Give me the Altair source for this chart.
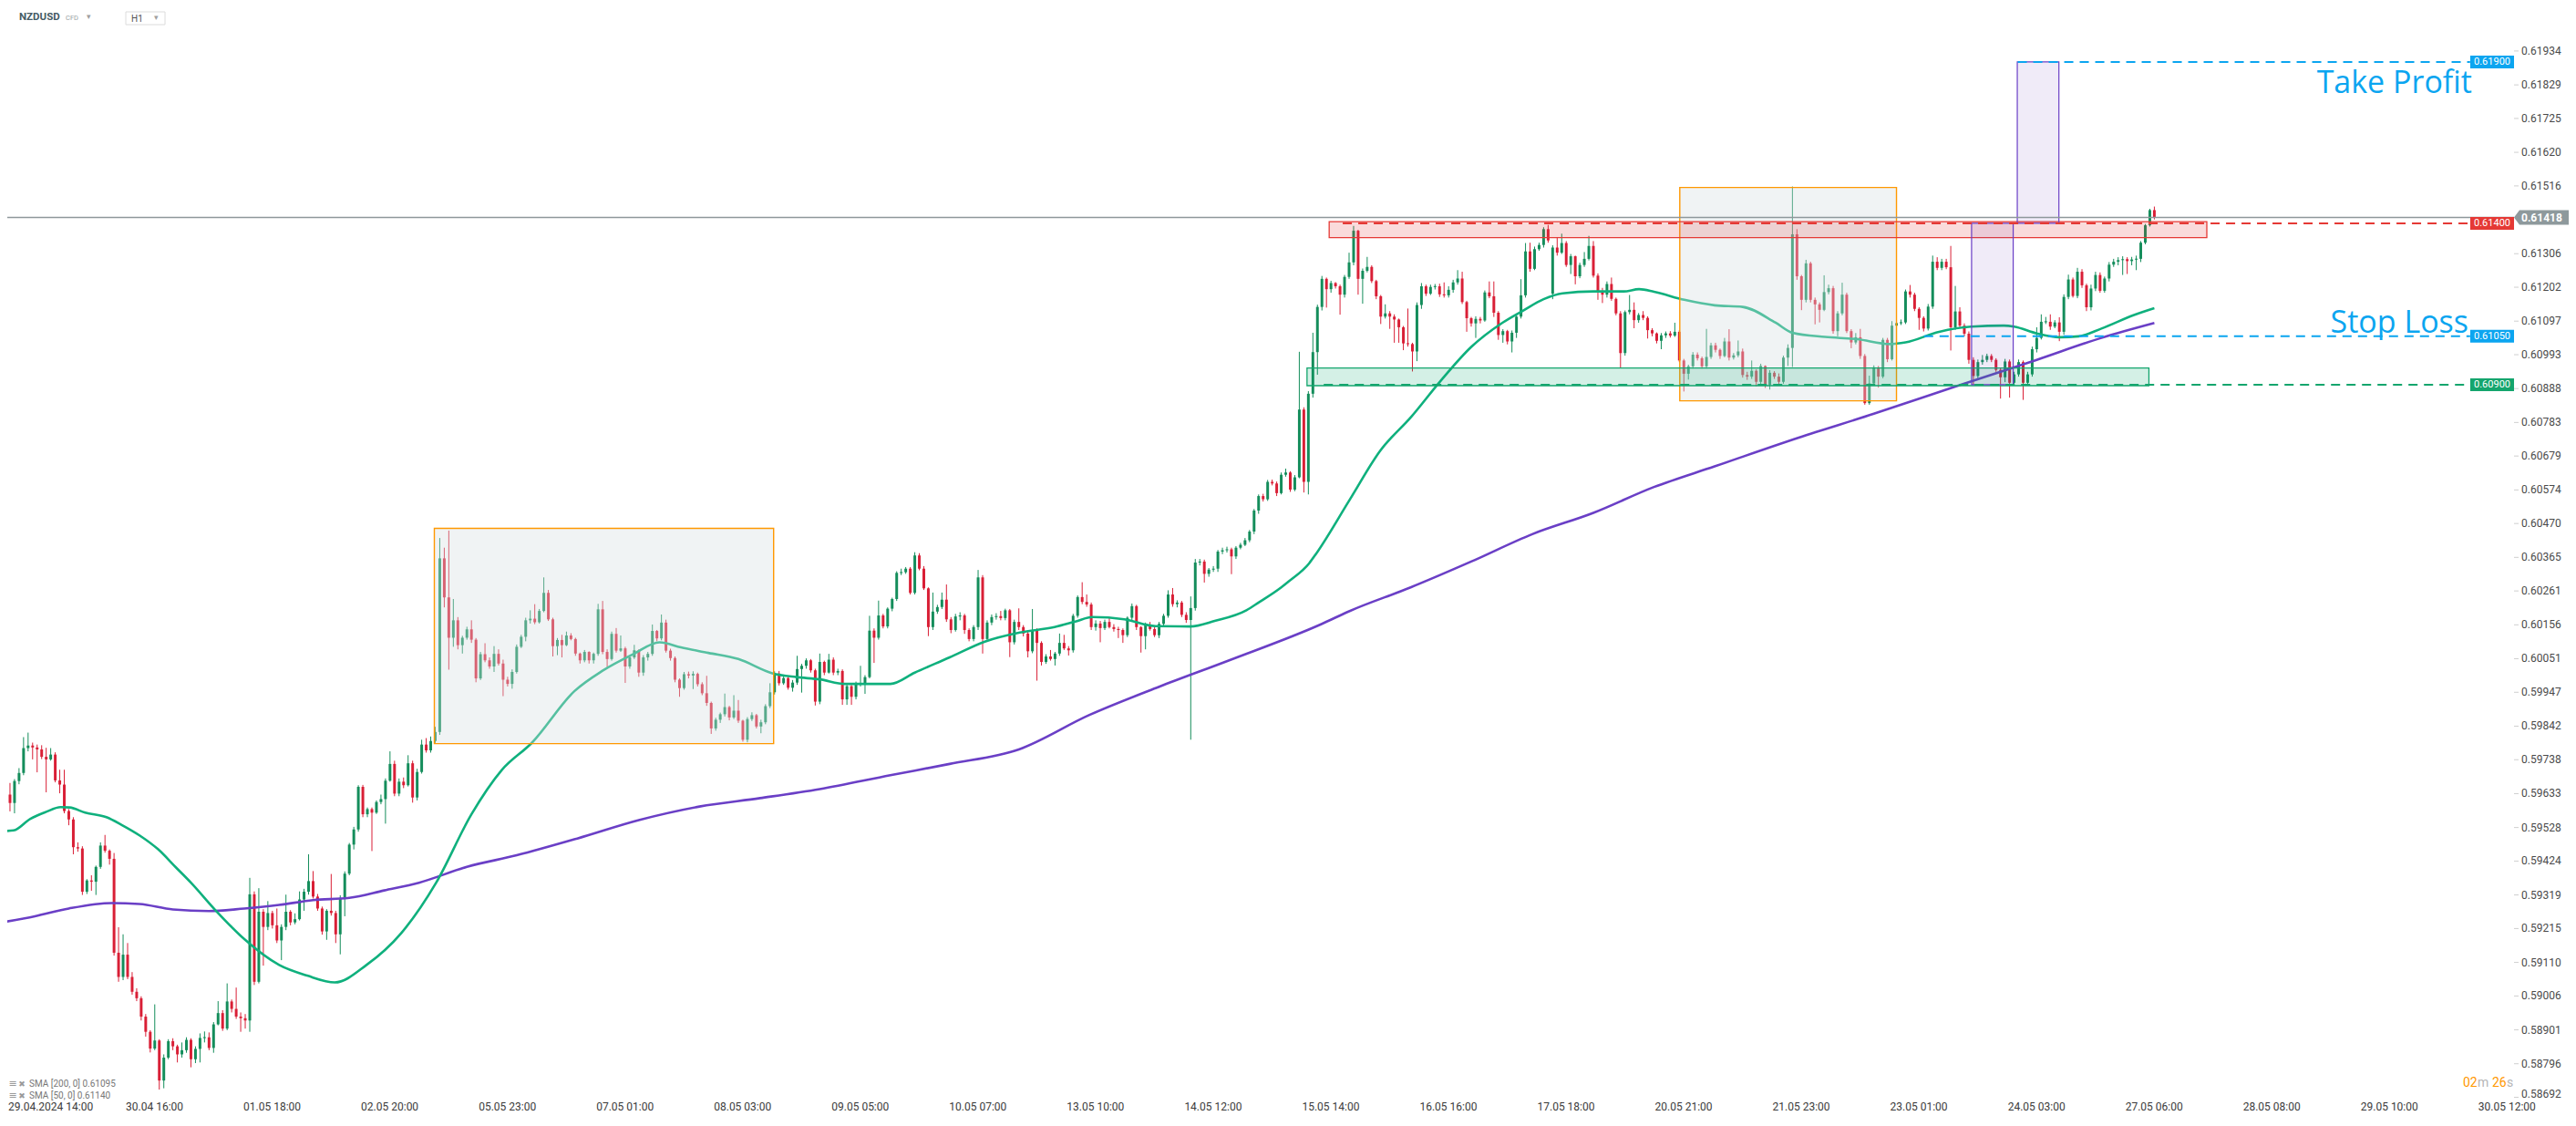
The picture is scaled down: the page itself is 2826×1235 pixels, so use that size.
import altair as alt
import pandas as pd
import numpy as np

# ------------------------------------------------------------------
# NZDUSD H1 candles (prices in 1e-5 units), bar 0 = 29.04.2024 14:00
# ------------------------------------------------------------------
first_open = 59720
open_gap = {342: 61182}

close = [
    59630, 59604, 59672, 59697, 59774, 59782, 59776, 59770, 59747, 59739,
    59754, 59674, 59661, 59579, 59553, 59467, 59463, 59329, 59364, 59360,
    59406, 59472, 59456, 59431, 59140, 59065, 59134, 59065, 59019, 58999,
    58942, 58895, 58843, 58868, 58744, 58815, 58866, 58850, 58825, 58838,
    58870, 58810, 58842, 58876, 58878, 58845, 58918, 58953, 58905, 58989,
    58966, 58942, 58937, 58930, 59321, 59050, 59267, 59220, 59263, 59225,
    59178, 59220, 59267, 59234, 59244, 59305, 59329, 59362, 59314, 59277,
    59206, 59270, 59263, 59197, 59310, 59385, 59475, 59522, 59654, 59569,
    59585, 59574, 59607, 59616, 59673, 59725, 59633, 59670, 59659, 59727,
    59621, 59700, 59785, 59767, 59796, 59824, 60362, 60241, 60116, 60170,
    60093, 60116, 60142, 60110, 59990, 60065, 60046, 60027, 60066, 60036,
    59986, 59973, 60010, 60088, 60119, 60170, 60175, 60164, 60199, 60255,
    60173, 60090, 60109, 60093, 60123, 60112, 60067, 60046, 60072, 60046,
    60066, 60204, 60072, 60050, 60128, 60076, 60083, 60027, 60055, 60077,
    60008, 60055, 60066, 60137, 60114, 60163, 60076, 60053, 59986, 59960,
    60003, 59999, 60004, 59972, 59944, 59914, 59835, 59862, 59879, 59901,
    59869, 59890, 59859, 59800, 59864, 59876, 59841, 59854, 59904, 59947,
    60005, 59975, 59991, 59961, 59977, 60019, 60029, 60046, 60015, 59918,
    60041, 60008, 60048, 60008, 60013, 59925, 59966, 59933, 59972, 59975,
    59994, 60138, 60116, 60185, 60151, 60206, 60236, 60317, 60319, 60330,
    60255, 60371, 60330, 60269, 60149, 60197, 60211, 60234, 60173, 60140,
    60182, 60185, 60140, 60112, 60149, 60303, 60112, 60163, 60180, 60183,
    60177, 60201, 60102, 60165, 60149, 60129, 60074, 60140, 60100, 60041,
    60058, 60050, 60067, 60100, 60083, 60077, 60184, 60242, 60227, 60219,
    60149, 60160, 60146, 60165, 60149, 60143, 60140, 60124, 60178, 60214,
    60149, 60121, 60157, 60143, 60124, 60159, 60184, 60250, 60220, 60225,
    60187, 60171, 60208, 60349, 60352, 60314, 60327, 60330, 60383, 60387,
    60390, 60368, 60395, 60404, 60418, 60445, 60510, 60555, 60545, 60599,
    60594, 60564, 60621, 60628, 60575, 60613, 60823, 60599, 60872, 61001,
    61141, 61228, 61196, 61215, 61205, 61179, 61234, 61279, 61377, 61228,
    61253, 61265, 61221, 61174, 61111, 61121, 61111, 61102, 61078, 61028,
    61026, 61003, 61147, 61205, 61182, 61203, 61205, 61180, 61177, 61194,
    61217, 61229, 61156, 61106, 61090, 61104, 61099, 61186, 61174, 61123,
    61054, 61066, 61034, 61061, 61111, 61177, 61313, 61259, 61320, 61333,
    61382, 61347, 61325, 61309, 61339, 61271, 61298, 61236, 61271, 61290,
    61330, 61238, 61187, 61179, 61212, 61166, 61121, 60998, 61125, 61132,
    61100, 61116, 61107, 61069, 61059, 61036, 61053, 61059, 61052, 61064,
    60975, 60934, 60957, 60993, 60982, 60957, 60986, 61022, 61008, 60989,
    61034, 60984, 60991, 61003, 60930, 60925, 60943, 60909, 60958, 60899,
    60937, 60925, 60909, 60984, 61014, 61366, 61236, 61163, 61276, 61163,
    61149, 61132, 61187, 61199, 61066, 61121, 61179, 61066, 61031, 61047,
    60989, 60843, 60904, 60954, 60925, 61039, 60979, 61083, 61091, 61093,
    61189, 61179, 61135, 61107, 61074, 61142, 61281, 61262, 61281, 61264,
    61078, 61127, 61083, 61058, 60977, 60927, 60970, 60977, 60989, 60977,
    60946, 60923, 60972, 60906, 60932, 60970, 60906, 60932, 61010, 61045,
    61095, 61095, 61080, 61093, 61064, 61172, 61226, 61175, 61250, 61208,
    61140, 61198, 61240, 61191, 61229, 61272, 61281, 61286, 61289, 61283,
    61288, 61290, 61340, 61394, 61441, 61418,
]

high = [
    59765, 59666, 59678, 59712, 59808, 59822, 59791, 59785, 59783, 59775,
    59774, 59761, 59707, 59707, 59585, 59560, 59482, 59470, 59368, 59380,
    59410, 59482, 59505, 59460, 59449, 59219, 59197, 59170, 59080, 59030,
    59005, 58950, 58900, 58980, 58872, 58825, 58872, 58875, 58855, 58862,
    58878, 58875, 58850, 58890, 58896, 58893, 58925, 58990, 58962, 59045,
    58995, 59032, 58955, 58950, 59372, 59330, 59340, 59275, 59300, 59270,
    59277, 59228, 59320, 59272, 59262, 59330, 59338, 59445, 59393, 59322,
    59283, 59275, 59384, 59270, 59318, 59392, 59480, 59530, 59659, 59660,
    59590, 59590, 59612, 59630, 59680, 59764, 59735, 59680, 59683, 59752,
    59735, 59710, 59800, 59805, 59810, 59840, 60425, 60395, 60448, 60236,
    60180, 60122, 60150, 60170, 60115, 60072, 60099, 60055, 60090, 60080,
    60048, 59995, 60018, 60095, 60125, 60178, 60201, 60220, 60205, 60303,
    60264, 60178, 60115, 60125, 60135, 60130, 60116, 60070, 60078, 60074,
    60070, 60221, 60230, 60080, 60135, 60146, 60123, 60088, 60060, 60094,
    60080, 60062, 60072, 60157, 60140, 60188, 60172, 60082, 60058, 59990,
    60010, 60011, 60012, 60008, 59978, 59998, 59918, 59868, 59884, 59943,
    59905, 59938, 59923, 59862, 59870, 59885, 59880, 59862, 59910, 59975,
    60012, 60013, 59998, 59995, 59985, 60060, 60035, 60052, 60050, 60020,
    60067, 60045, 60066, 60055, 60020, 60018, 59972, 59970, 59980, 60029,
    60000, 60184, 60145, 60231, 60190, 60210, 60240, 60322, 60330, 60335,
    60335, 60381, 60378, 60338, 60272, 60256, 60218, 60256, 60281, 60180,
    60190, 60195, 60190, 60145, 60155, 60326, 60310, 60170, 60188, 60192,
    60199, 60206, 60205, 60172, 60207, 60155, 60135, 60205, 60145, 60105,
    60065, 60078, 60072, 60129, 60125, 60090, 60190, 60247, 60288, 60250,
    60225, 60170, 60168, 60172, 60180, 60158, 60150, 60145, 60182, 60222,
    60218, 60152, 60163, 60165, 60150, 60165, 60190, 60263, 60270, 60232,
    60230, 60195, 60244, 60360, 60360, 60358, 60332, 60338, 60388, 60395,
    60398, 60395, 60400, 60410, 60425, 60450, 60515, 60560, 60562, 60605,
    60606, 60600, 60628, 60640, 60632, 60620, 61002, 60830, 60880, 61061,
    61148, 61237, 61232, 61222, 61218, 61210, 61240, 61309, 61392, 61380,
    61260, 61296, 61270, 61225, 61178, 61149, 61128, 61118, 61105, 61082,
    61136, 61030, 61155, 61215, 61210, 61210, 61212, 61213, 61217, 61205,
    61225, 61255, 61250, 61160, 61110, 61112, 61110, 61192, 61220, 61220,
    61128, 61072, 61070, 61068, 61118, 61227, 61339, 61340, 61328, 61340,
    61388, 61395, 61332, 61357, 61368, 61345, 61305, 61300, 61278, 61311,
    61361, 61345, 61245, 61200, 61220, 61232, 61170, 61128, 61130, 61178,
    61155, 61122, 61128, 61112, 61075, 61062, 61060, 61065, 61066, 61092,
    61069, 60980, 60962, 61001, 61000, 60987, 61073, 61030, 61030, 61012,
    61045, 61072, 60998, 61037, 61012, 60940, 60975, 60948, 60965, 60960,
    60945, 60942, 60935, 60990, 61025, 61514, 61382, 61240, 61287, 61281,
    61170, 61155, 61239, 61210, 61206, 61128, 61216, 61185, 61072, 61060,
    61073, 60995, 60928, 60960, 60958, 61045, 61045, 61097, 61100, 61102,
    61195, 61209, 61185, 61140, 61112, 61150, 61300, 61295, 61290, 61290,
    61330, 61206, 61140, 61090, 61065, 60985, 60978, 60992, 60996, 60995,
    60982, 60952, 60980, 60978, 60940, 60978, 60975, 60940, 61018, 61078,
    61118, 61110, 61118, 61100, 61109, 61180, 61241, 61232, 61262, 61258,
    61213, 61210, 61250, 61248, 61235, 61280, 61290, 61295, 61298, 61295,
    61296, 61300, 61345, 61398, 61445, 61452,
]

low = [
    59625, 59578, 59572, 59662, 59690, 59764, 59739, 59699, 59740, 59637,
    59735, 59668, 59634, 59572, 59535, 59445, 59453, 59319, 59322, 59332,
    59319, 59400, 59450, 59413, 59131, 59050, 59055, 59058, 59010, 58990,
    58930, 58880, 58831, 58838, 58716, 58720, 58810, 58838, 58800, 58815,
    58830, 58785, 58798, 58800, 58862, 58838, 58830, 58915, 58898, 58900,
    58955, 58935, 58895, 58905, 58895, 59040, 59045, 59100, 59210, 59215,
    59170, 59117, 59210, 59225, 59228, 59240, 59270, 59320, 59308, 59270,
    59196, 59180, 59255, 59170, 59135, 59253, 59380, 59460, 59515, 59560,
    59560, 59455, 59570, 59600, 59540, 59670, 59625, 59625, 59650, 59655,
    59605, 59612, 59695, 59760, 59760, 59790, 59815, 60210, 60017, 60088,
    60080, 60067, 60110, 60100, 59978, 59985, 60040, 60020, 60010, 60030,
    59935, 59965, 59958, 60005, 60084, 60105, 60160, 60158, 60160, 60195,
    60168, 60058, 60062, 60055, 60090, 60108, 60060, 60036, 60040, 60036,
    60036, 60060, 60065, 60025, 60045, 60070, 60072, 59976, 60020, 60050,
    59995, 59998, 60045, 60060, 60105, 60108, 60070, 60045, 59978, 59933,
    59955, 59990, 59957, 59965, 59938, 59905, 59818, 59828, 59852, 59872,
    59860, 59864, 59852, 59794, 59792, 59858, 59835, 59820, 59848, 59898,
    59940, 59968, 59970, 59955, 59949, 59970, 59946, 60020, 60008, 59906,
    59910, 60000, 60005, 60000, 60000, 59908, 59908, 59908, 59925, 59965,
    59942, 59990, 60038, 60110, 60145, 60145, 60198, 60230, 60310, 60314,
    60250, 60250, 60325, 60264, 60121, 60140, 60190, 60205, 60165, 60130,
    60135, 60170, 60128, 60105, 60105, 60140, 60067, 60105, 60155, 60172,
    60170, 60170, 60056, 60095, 60140, 60120, 60055, 60068, 59983, 60030,
    60035, 60045, 60030, 60060, 60078, 60061, 60070, 60178, 60220, 60212,
    60140, 60138, 60102, 60140, 60145, 60135, 60115, 60100, 60118, 60170,
    60140, 60070, 60080, 60138, 60118, 60115, 60150, 60178, 60212, 60210,
    60180, 60162, 59800, 60200, 60340, 60287, 60305, 60320, 60320, 60375,
    60380, 60313, 60360, 60390, 60400, 60412, 60437, 60500, 60538, 60540,
    60588, 60555, 60560, 60615, 60568, 60570, 60610, 60566, 60560, 60860,
    60931, 61130, 61139, 61185, 61198, 61117, 61170, 61228, 61270, 61179,
    61151, 61248, 61215, 61165, 61088, 61105, 61073, 61030, 61030, 61007,
    61018, 60941, 60973, 61135, 61175, 61178, 61195, 61172, 61170, 61170,
    61185, 61210, 61150, 61064, 61080, 61045, 61090, 61095, 61168, 61110,
    61039, 61030, 61025, 61000, 61045, 61105, 61170, 61250, 61255, 61315,
    61325, 61340, 61165, 61300, 61305, 61265, 61243, 61211, 61230, 61265,
    61285, 61232, 61163, 61153, 61170, 61160, 61115, 60953, 60990, 61118,
    61075, 61092, 61100, 61043, 61050, 61028, 61010, 61045, 61046, 61048,
    60970, 60879, 60916, 60950, 60975, 60950, 60950, 60980, 61000, 60980,
    60985, 60975, 60978, 60985, 60922, 60915, 60918, 60895, 60900, 60890,
    60885, 60918, 60902, 60903, 60958, 60955, 61225, 61131, 61155, 61155,
    61087, 61093, 61128, 61180, 61058, 61050, 61115, 61060, 61013, 61025,
    60980, 60838, 60838, 60898, 60891, 60920, 60970, 60975, 61026, 61085,
    61088, 61170, 61128, 61070, 61065, 61068, 61135, 61255, 61255, 61258,
    61006, 61070, 61075, 61050, 60965, 60900, 60920, 60962, 60970, 60970,
    60940, 60857, 60908, 60860, 60900, 60925, 60853, 60900, 60925, 61000,
    61040, 61088, 61070, 61075, 61035, 61055, 61165, 61170, 61168, 61200,
    61128, 61130, 61190, 61185, 61185, 61220, 61265, 61270, 61240, 61243,
    61270, 61255, 61280, 61335, 61390, 61412,
]

# Moving averages (bar position, value in 1e-5 units)
sma50_bar = [0, 1.8, 5.5, 8.9, 12.2, 14.2, 17.6, 22.3, 25.7, 29.7, 33.7, 37.7, 41, 46.6,
             52.8, 60.5, 66.7, 72.8, 79.8, 87.5, 95.2, 103, 109.7, 116.4, 125.8, 131.9,
             138.6, 144.6, 149.3, 155.4, 162, 169.5, 174.8, 180, 185.6, 195.6, 201, 208.7,
             216.5, 224.2, 231.9, 236.5, 240.3, 247.3, 254.2, 261.9, 267.3, 274.3, 277,
             282, 283.7, 288.2, 289.7, 297.2, 303.9, 310.7, 317.3, 324, 330.9, 335.5, 340,
             344.2, 351, 357.7, 361.1, 364.4, 371.1, 377.8, 384, 391.3, 395, 402.2, 409.3,
             416.5, 420, 427.4, 434.5, 441.7, 444, 449, 454, 458.3, 463.3, 470.5, 475]
sma50_val = [59517, 59519, 59555, 59576, 59591, 59590, 59574, 59560, 59536, 59503, 59461,
             59404, 59357, 59269, 59182, 59102, 59069, 59048, 59102, 59201, 59357, 59569,
             59706, 59791, 59951, 60013, 60064, 60102, 60086, 60069, 60050, 60006, 59994,
             59987, 59973, 59973, 60008, 60055, 60104, 60132, 60149, 60166, 60180, 60173,
             60152, 60151, 60168, 60201, 60225, 60272, 60291, 60347, 60376, 60545, 60696,
             60800, 60913, 61017, 61092, 61130, 61165, 61183, 61189, 61189, 61196, 61188,
             61163, 61146, 61141, 61092, 61061, 61048, 61041, 61026, 61031, 61064, 61080,
             61083, 61080, 61059, 61047, 61050, 61074, 61116, 61137]

sma200_bar = [0, 6.5, 14, 23.5, 29.6, 37, 45, 52.8, 60.5, 68, 76, 83.7, 91.4, 102, 113,
              126.4, 140, 153.4, 166.8, 180, 195.6, 208.7, 224, 239.5, 255, 270.5, 291, 297,
              310.6, 324, 337.5, 351, 364.4, 377.8, 396.4, 413, 431, 449, 463.3, 475]
sma200_val = [59236, 59253, 59277, 59294, 59291, 59274, 59269, 59277, 59288, 59303, 59310,
              59333, 59357, 59406, 59442, 59494, 59551, 59593, 59619, 59647, 59690, 59725,
              59770, 59876, 59964, 60046, 60159, 60198, 60272, 60352, 60437, 60503, 60583,
              60647, 60736, 60810, 60894, 60977, 61045, 61091]

# Axis labels
price_tick_text = ["0.61934", "0.61829", "0.61725", "0.61620", "0.61516", "0.61306",
                   "0.61202", "0.61097", "0.60993", "0.60888", "0.60783", "0.60679",
                   "0.60574", "0.60470", "0.60365", "0.60261", "0.60156", "0.60051",
                   "0.59947", "0.59842", "0.59738", "0.59633", "0.59528", "0.59424",
                   "0.59319", "0.59215", "0.59110", "0.59006", "0.58901", "0.58796",
                   "0.58692"]
time_tick_bar = [0, 26, 52, 78, 104, 130, 156, 182, 208, 234, 260, 286, 312, 338, 364,
                 390, 416, 442, 468, 494, 520, 546]
time_tick_text = ["29.04.2024 14:00", "30.04 16:00", "01.05 18:00", "02.05 20:00",
                  "05.05 23:00", "07.05 01:00", "08.05 03:00", "09.05 05:00",
                  "10.05 07:00", "13.05 10:00", "14.05 12:00", "15.05 14:00",
                  "16.05 16:00", "17.05 18:00", "20.05 21:00", "21.05 23:00",
                  "23.05 01:00", "24.05 03:00", "27.05 06:00", "28.05 08:00",
                  "29.05 10:00", "30.05 12:00"]

# Drawing tools (bar positions and price levels)
orange_bar0 = [94.8, 370.1]
orange_bar1 = [169.8, 418.0]
orange_lo = [0.59788, 0.60850]
orange_hi = [0.60455, 0.61511]

zone_red = dict(b0=[292.6], b1=[486.6], p0=[0.61356], p1=[0.61405])
zone_green = dict(b0=[287.7], b1=[473.8], p0=[0.60897], p1=[0.60952])
purple_bar0 = [434.6, 444.7]
purple_bar1 = [443.8, 453.9]
purple_lo = [0.60900, 0.61400]
purple_hi = [0.61400, 0.61900]

level_kind = ["tp", "sl", "res", "sup"]
level_price = [0.61900, 0.61050, 0.61400, 0.60900]
level_text = ["0.61900", "0.61050", "0.61400", "0.60900"]
level_from = [444.8, 424.1, 295.6, 291.4]
level_to = [544.8, 544.8, 544.8, 544.8]

last_price = 0.61418
last_text = "0.61418"
sma_legend = ["SMA [200, 0] 0.61095", "SMA [50, 0] 0.61140"]

# ------------------------------------------------------------------
W, H = 2810, 1212
X_DOM = [2 / 4.963, (W + 2) / 4.963]
Y_DOM = [(62092 - 1220 * 2.825) / 1e5, (62092 - 8 * 2.825) / 1e5]

GREEN = "#148d5b"
RED = "#d91f36"
BLUE = "#0ba5f0"

n = len(close)
opens = [first_open] + close[:-1]
for k, v in open_gap.items():
    opens[k] = v
df = pd.DataFrame({"i": np.arange(n), "o": opens, "h": high, "l": low, "c": close})
for col in ["o", "h", "l", "c"]:
    df[col] = df[col] / 1e5
df["dir"] = np.where(df["c"] >= df["o"], "up", "down")
df["b0"] = df[["o", "c"]].min(axis=1)
df["b1"] = df[["o", "c"]].max(axis=1)
mid = (df["b0"] + df["b1"]) / 2
thin = (df["b1"] - df["b0"]) < 0.00003
df.loc[thin, "b0"] = mid[thin] - 0.000015
df.loc[thin, "b1"] = mid[thin] + 0.000015
df["wl"] = df[["l", "b0"]].min(axis=1)
df["wh"] = df[["h", "b1"]].max(axis=1)
df["x0"] = df["i"] - 0.3
df["x1"] = df["i"] + 0.3

xs = alt.Scale(domain=X_DOM, nice=False, zero=False)
ys = alt.Scale(domain=Y_DOM, nice=False, zero=False)


def X(f):
    return alt.X(f, scale=xs, axis=None)


def Y(f):
    return alt.Y(f, scale=ys, axis=None)


candle_color = alt.Color("dir:N", scale=alt.Scale(domain=["up", "down"], range=[GREEN, RED]),
                         legend=None)

wicks = alt.Chart(df).mark_rule(strokeWidth=1).encode(
    x=X("i:Q"), y=Y("wl:Q"), y2="wh:Q", color=candle_color)
bodies = alt.Chart(df).mark_rect().encode(
    x=X("x0:Q"), x2="x1:Q", y=Y("b0:Q"), y2="b1:Q", color=candle_color)

sma50_df = pd.DataFrame({"bar": sma50_bar, "v": np.array(sma50_val) / 1e5})
sma200_df = pd.DataFrame({"bar": sma200_bar, "v": np.array(sma200_val) / 1e5})
sma200 = alt.Chart(sma200_df).mark_line(color="#6a3fc6", strokeWidth=2.6,
                                        interpolate="monotone").encode(x=X("bar:Q"), y=Y("v:Q"))
sma50 = alt.Chart(sma50_df).mark_line(color="#0fb07d", strokeWidth=2.6,
                                      interpolate="monotone").encode(x=X("bar:Q"), y=Y("v:Q"))

obox = pd.DataFrame({"b0": orange_bar0, "b1": orange_bar1, "p0": orange_lo, "p1": orange_hi})
orange_boxes = alt.Chart(obox).mark_rect(fill="#d5dee1", fillOpacity=0.36, stroke="#ff9800",
                                         strokeWidth=1.4).encode(
    x=X("b0:Q"), x2="b1:Q", y=Y("p0:Q"), y2="p1:Q")

red_zone = alt.Chart(pd.DataFrame(zone_red)).mark_rect(
    fill="#e53935", fillOpacity=0.18, stroke="#e53935", strokeWidth=1.3).encode(
    x=X("b0:Q"), x2="b1:Q", y=Y("p0:Q"), y2="p1:Q")
green_zone = alt.Chart(pd.DataFrame(zone_green)).mark_rect(
    fill="#00a86b", fillOpacity=0.17, stroke="#13a56d", strokeWidth=1.3).encode(
    x=X("b0:Q"), x2="b1:Q", y=Y("p0:Q"), y2="p1:Q")
pbox = pd.DataFrame({"b0": purple_bar0, "b1": purple_bar1, "p0": purple_lo, "p1": purple_hi})
purple_boxes = alt.Chart(pbox).mark_rect(fill="#673ab7", fillOpacity=0.1, stroke="#6a3fc6",
                                         strokeWidth=1.2).encode(
    x=X("b0:Q"), x2="b1:Q", y=Y("p0:Q"), y2="p1:Q")

lvl = pd.DataFrame({"kind": level_kind, "p": level_price, "t": level_text,
                    "b0": level_from, "b1": level_to})
level_color = alt.Color("kind:N", scale=alt.Scale(domain=["tp", "sl", "res", "sup"],
                                                  range=[BLUE, BLUE, "#e53935", "#14a56d"]),
                        legend=None)
level_lines = alt.Chart(lvl).mark_rule(strokeWidth=2, strokeDash=[10, 7]).encode(
    x=X("b0:Q"), x2="b1:Q", y=Y("p:Q"), color=level_color)

last_df = pd.DataFrame({"p": [last_price], "t": [last_text]})
last_line = alt.Chart(last_df).mark_rule(color="#8e989b", strokeWidth=1.5).encode(
    x=alt.value(0), x2=alt.value(2750), y=Y("p:Q"))

BOX_PATH = "M-3.43,-1 L3.43,-1 L3.43,1 L-3.43,1 Z"
level_boxes = alt.Chart(lvl).mark_point(shape=BOX_PATH, filled=True, size=196, opacity=1,
                                        strokeWidth=0).encode(
    x=alt.value(2726), y=Y("p:Q"), color=level_color)
level_box_text = alt.Chart(lvl).mark_text(color="white", fontSize=11, font="Roboto",
                                          align="center", baseline="middle").encode(
    x=alt.value(2726), y=Y("p:Q"), text="t:N")

ARROW_PATH = "M-4.25,0 L-3.5,-1 L4.25,-1 L4.25,1 L-3.5,1 Z"
last_box = alt.Chart(last_df).mark_point(shape=ARROW_PATH, filled=True, size=256, opacity=1,
                                         strokeWidth=0, color="#8e999c").encode(
    x=alt.value(2784), y=Y("p:Q"))
last_box_text = alt.Chart(last_df).mark_text(color="white", fontSize=12, font="Roboto",
                                             fontWeight="bold", align="left",
                                             baseline="middle").encode(
    x=alt.value(2758), y=Y("p:Q"), text="t:N")

ptick = pd.DataFrame({"t": price_tick_text, "p": [float(t) for t in price_tick_text]})
ptick_main = ptick.iloc[:-1]
ptick_last = ptick.iloc[-1:]
price_dash = alt.Chart(ptick).mark_rule(color="#cfcfcf", strokeWidth=1).encode(
    x=alt.value(2750), x2=alt.value(2755), y=Y("p:Q"))
price_lab = alt.Chart(ptick_main).mark_text(fontSize=12, font="Roboto", color="#4a4a4a",
                                            align="left", baseline="middle").encode(
    x=alt.value(2758), y=Y("p:Q"), text="t:N")
price_lab_last = alt.Chart(ptick_last).mark_text(fontSize=12, font="Roboto", color="#4a4a4a",
                                                 align="left", baseline="middle",
                                                 dy=-4).encode(
    x=alt.value(2758), y=Y("p:Q"), text="t:N")

ttick = pd.DataFrame({"bar": time_tick_bar, "t": time_tick_text})
time_lab = alt.Chart(ttick).mark_text(fontSize=12, font="Roboto", color="#3a3a3a",
                                      align="left", baseline="middle", dx=3).encode(
    x=X("bar:Q"), y=alt.value(1205.5), text="t:N")

one = pd.DataFrame({"k": [0]})


def txt(text, x, y, size, color, weight="normal", font="Roboto", align="left",
        baseline="middle"):
    return alt.Chart(one).mark_text(text=text, fontSize=size, color=color, fontWeight=weight,
                                    font=font, align=align, baseline=baseline).encode(
        x=alt.value(x), y=alt.value(y))


tp_text = txt("Take Profit", 2704, 94, 34, BLUE, font="Open Sans", align="right",
              baseline="alphabetic")
sl_text = txt("Stop Loss", 2700, 357, 34, BLUE, font="Open Sans", align="right",
              baseline="alphabetic")

h1_box = alt.Chart(one).mark_rect(fill="white", stroke="#dcdcdc", strokeWidth=1).encode(
    x=alt.value(130), x2=alt.value(173), y=alt.value(5), y2=alt.value(19))
header = [
    txt("NZDUSD", 13, 11, 11.5, "#455a64", weight="bold"),
    txt("CFD", 64, 11.5, 7.5, "#9aa0a4"),
    txt("▾", 87, 10, 9, "#a0a0a0", font="DejaVu Sans"),
    h1_box,
    txt("H1", 136, 12.5, 10, "#555555"),
    txt("▾", 161, 11, 9, "#a0a0a0", font="DejaVu Sans"),
]

legend = [
    txt("≡", 6, 1181, 11, "#9a9a9a", font="DejaVu Sans", align="center"),
    txt("✖", 16, 1181, 9, "#9a9a9a", font="DejaVu Sans", align="center"),
    txt(sma_legend[0], 24, 1181, 10, "#777777"),
    txt("≡", 6, 1194, 11, "#9a9a9a", font="DejaVu Sans", align="center"),
    txt("✖", 16, 1194, 9, "#9a9a9a", font="DejaVu Sans", align="center"),
    txt(sma_legend[1], 24, 1194, 10, "#777777"),
]

countdown = [
    txt("02", 2694, 1180, 14, "#ff9800"),
    txt("m", 2710, 1180, 14, "#b5b5b5"),
    txt("26", 2726, 1180, 14, "#ff9800"),
    txt("s", 2742, 1180, 14, "#b5b5b5"),
]

layers = [wicks, bodies, sma200, sma50, orange_boxes, red_zone, green_zone, purple_boxes,
          level_lines, last_line, level_boxes, level_box_text, last_box, last_box_text,
          price_dash, price_lab, price_lab_last, time_lab, tp_text, sl_text] \
    + header + legend + countdown

chart = alt.layer(*layers).resolve_scale(color="independent").properties(
    width=W, height=H, autosize=alt.AutoSizeParams(type="none"), padding=0,
    background="white"
).configure_view(stroke=None)

chart.save("out.html", embed_options={"renderer": "svg", "actions": False})
